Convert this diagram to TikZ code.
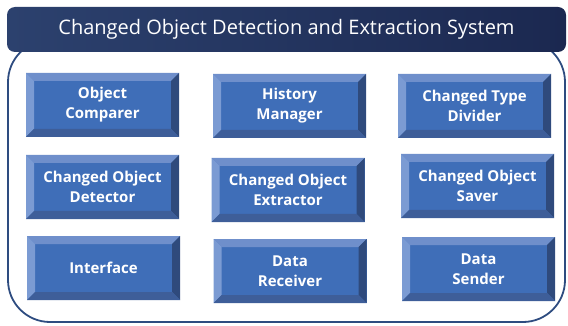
\documentclass[tikz,border=0pt]{standalone}
\usepackage{fontspec}
\setmainfont{Open Sans}
\usepackage{xcolor}
\usepackage{tikz}
\usetikzlibrary{positioning}

\definecolor{barL}{HTML}{2C416E}
\definecolor{barR}{HTML}{1B2850}
\definecolor{frameC}{HTML}{2E4C80}
\definecolor{faceC}{HTML}{3F6EB8}
\definecolor{topC}{HTML}{6F8FCB}
\definecolor{leftC}{HTML}{7B9BD3}
\definecolor{rightC}{HTML}{2F4A7C}
\definecolor{botC}{HTML}{3E5E99}

% bevel edges of a box
\newcommand{\bevelbox}[1]{%
  \fill[topC] (#1.north west) -- (#1.north east) -- ([shift={(-8pt,-8pt)}]#1.north east) -- ([shift={(8pt,-8pt)}]#1.north west) -- cycle;
  \fill[leftC] (#1.north west) -- ([shift={(8pt,-8pt)}]#1.north west) -- ([shift={(8pt,8pt)}]#1.south west) -- (#1.south west) -- cycle;
  \fill[rightC] (#1.north east) -- ([shift={(-8pt,-8pt)}]#1.north east) -- ([shift={(-8pt,8pt)}]#1.south east) -- (#1.south east) -- cycle;
  \fill[botC] (#1.south west) -- ([shift={(8pt,8pt)}]#1.south west) -- ([shift={(-8pt,8pt)}]#1.south east) -- (#1.south east) -- cycle;
}

\begin{document}
\begin{tikzpicture}[x=1pt, y=-1pt,
    blk/.style={fill=faceC, text=white, minimum width=153pt, minimum height=64pt,
      inner sep=0pt, outer sep=0pt, align=center,
      font=\bfseries\fontsize{15}{20}\selectfont},
    titlebar/.style={left color=barL, right color=barR, rounded corners=8pt,
      minimum width=559pt, minimum height=45pt, inner sep=0pt, text=white,
      font=\fontsize{20}{24}\selectfont}]
\useasboundingbox (0,0) rectangle (568,326);

% Marco
\draw[frameC, line width=1.8pt, rounded corners=42pt] (8,40) rectangle (565,322);
\node[titlebar] (title) at (286.5,29.5) {Changed Object Detection and Extraction System};

% Bloques
\node[blk] (cmp) at (102.5,105) {Object\\Comparer};
\node[blk, right=34pt of cmp, yshift=-1pt] (hist) {History\\Manager};
\node[blk, right=32pt of hist] (div) {Changed Type\\Divider};
\node[blk, below=18pt of cmp] (det) {Changed Object\\Detector};
\node[blk, below=20pt of hist, xshift=-1.5pt] (ext) {Changed Object\\Extractor};
\node[blk, below=16pt of div, xshift=3pt] (sav) {Changed Object\\Saver};
\node[blk, below=17pt of det, xshift=1pt] (intf) {Interface};
\node[blk, below=17pt of ext, xshift=2pt] (recv) {Data\\Receiver};
\node[blk, below=19pt of sav, xshift=1pt] (send) {Data\\Sender};

\foreach \b in {cmp,hist,div,det,ext,sav,intf,recv,send}
  \bevelbox{\b};
\end{tikzpicture}
\end{document}
